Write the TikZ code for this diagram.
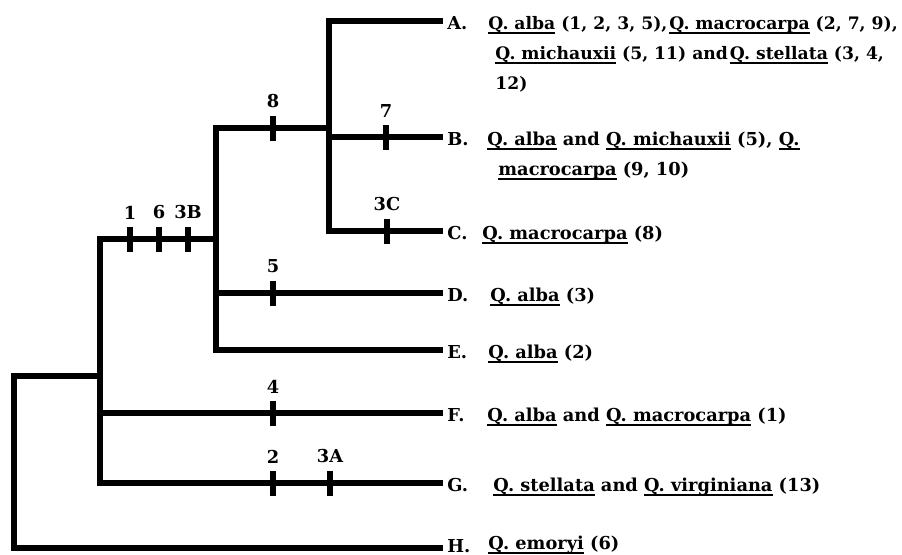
\documentclass[tikz,border=0pt]{standalone}
\usepackage{fontspec}
\setmainfont{DejaVu Serif}
\newcommand{\spul}[1]{\setbox0\hbox{#1}\rlap{\rule[-2.4pt]{\wd0}{0.9pt}}\box0\relax}
\newcommand{\oak}[1]{\spul{Q.~#1}}
\begin{document}
\begin{tikzpicture}[x=0.5pt,y=-0.5pt,font=\bfseries\fontsize{8.9}{15}\selectfont,
  branch/.style={line width=3pt,line join=miter},
  mut/.style={fill=black,inner sep=0pt,minimum width=3pt,minimum height=12.5pt,label distance=0pt},
  taxon/.style={anchor=west,inner sep=0pt},
  spp/.style={anchor=base west,inner sep=0pt}]
\useasboundingbox (0,0) rectangle (902,554);
        % leaf ends
        \coordinate (A) at (443,21) {};
        \coordinate (B) at (443,137) {};
        \coordinate (C) at (443,231) {};
        \coordinate (D) at (443,293) {};
        \coordinate (E) at (443,350) {};
        \coordinate (F) at (443,413) {};
        \coordinate (G) at (443,483) {};
        \coordinate (H) at (443,548) {};
        % internal nodes
        \coordinate (N3t) at (329,21) {};
        \coordinate (N3j) at (329,128) {};
        \coordinate (N3m) at (329,137) {};
        \coordinate (N3b) at (329,231) {};
        \coordinate (N2t) at (216,128) {};
        \coordinate (N2j) at (216,239) {};
        \coordinate (N2d) at (216,293) {};
        \coordinate (N2b) at (216,350) {};
        \coordinate (N1t) at (100,239) {};
        \coordinate (N1r) at (100,376) {};
        \coordinate (N1f) at (100,413) {};
        \coordinate (N1b) at (100,483) {};
        \coordinate (R1) at (14,376) {};
        \coordinate (R2) at (14,548) {};
\draw[branch] (A)--(N3t)--(N3b)--(C);
\draw[branch] (N3m)--(B);
\draw[branch] (N3j)--(N2t)--(N2b)--(E);
\draw[branch] (N2d)--(D);
\draw[branch] (N2j)--(N1t)--(N1b)--(G);
\draw[branch] (N1f)--(F);
\draw[branch] (N1r)--(R1)--(R2)--(H);
% character changes
\node[mut,label=above:1] (m1) at (130,239) {};
\node[mut,label=above:6] (m6) at (159,239) {};
\node[mut,label=above:3B] (m3B) at (188,239) {};
\node[mut,label=above:8] (m8) at (273,128) {};
\node[mut,label=above:7] (m7) at (386,137) {};
\node[mut,label=above:3C] (m3C) at (387,231) {};
\node[mut,label=above:5] (m5) at (273,293) {};
\node[mut,label=above:4] (m4) at (273,413) {};
\node[mut,label=above:2] (m2) at (273,483) {};
\node[mut,label=above:3A] (m3A) at (330,483) {};
% taxa
\node[taxon] (lA) at (447,23) {A.};
\node[taxon] (lB) at (447,139) {B.};
\node[taxon] (lC) at (447,233) {C.};
\node[taxon] (lD) at (447,295) {D.};
\node[taxon] (lE) at (447,352) {E.};
\node[taxon] (lF) at (447,415) {F.};
\node[taxon] (lG) at (447,485) {G.};
\node[taxon] (lH) at (447,546) {H.};
\node[spp,font=\bfseries\fontsize{8.6}{15}\selectfont] (tA) at (488,29) {\begin{tabular}[t]{@{}l@{}}
  \oak{alba} (1, 2, 3, 5),\hspace{1pt}\oak{macrocarpa} (2, 7, 9),\\
  \hspace{3.5pt}\oak{michauxii} (5, 11) and\hspace{1pt}\oak{stellata} (3, 4,\\
  \hspace{3.5pt}12)\end{tabular}};
\node[spp] (tB) at (487,145) {\begin{tabular}[t]{@{}l@{}}
  \oak{alba} and \oak{michauxii} (5), \spul{Q.}\\
  \hspace{5.5pt}\spul{macrocarpa} (9, 10)\end{tabular}};
\node[spp] (tC) at (482,239) {\oak{macrocarpa} (8)};
\node[spp] (tD) at (490,301) {\oak{alba} (3)};
\node[spp] (tE) at (488,358) {\oak{alba} (2)};
\node[spp] (tF) at (487,421) {\oak{alba} and \oak{macrocarpa} (1)};
\node[spp] (tG) at (493,491) {\oak{stellata} and \oak{virginiana} (13)};
\node[spp] (tH) at (488,549) {\oak{emoryi} (6)};
\end{tikzpicture}
\end{document}
